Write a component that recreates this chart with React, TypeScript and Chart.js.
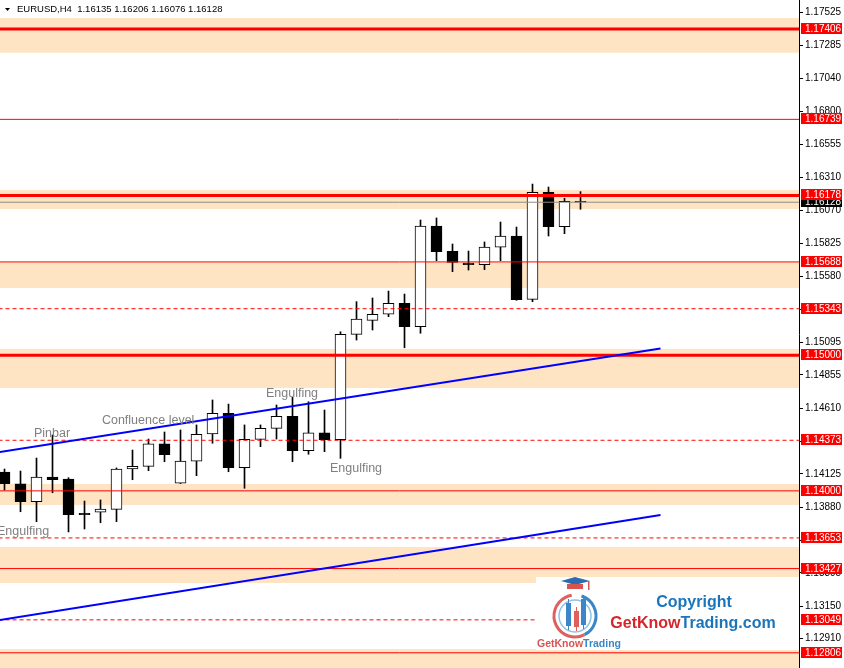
import React, { useEffect, useRef } from "react";
import { Chart, registerables } from "chart.js";

Chart.register(...registerables);

// ---- data ----
const symbolTitle = "EURUSD,H4";
const lastBarQuote = ["1.16135", "1.16206", "1.16076", "1.16128"];

const opens = [
  1.14139, 1.14051, 1.1392, 1.14102, 1.14087, 1.13835, 1.13842, 1.13864, 1.14161, 1.14181,
  1.14346, 1.14056, 1.14218, 1.14419, 1.14572, 1.14171, 1.1438, 1.14461, 1.1455, 1.14296,
  1.14427, 1.14377, 1.15154, 1.15257, 1.15302, 1.15383, 1.1521, 1.15953, 1.15766, 1.1568,
  1.15667, 1.15796, 1.15879, 1.15412, 1.16201, 1.15947, 1.16135,
];
const highs = [
  1.14161, 1.14146, 1.14242, 1.14412, 1.14097, 1.13925, 1.13933, 1.14169, 1.14301, 1.14382,
  1.14434, 1.14449, 1.14486, 1.1467, 1.1464, 1.14486, 1.14486, 1.14633, 1.1469, 1.14657,
  1.14596, 1.15173, 1.15395, 1.15422, 1.15473, 1.15451, 1.15997, 1.16012, 1.1582, 1.15768,
  1.15835, 1.15982, 1.15945, 1.16262, 1.1624, 1.16157, 1.16206,
];
const lows = [
  1.14006, 1.13846, 1.13773, 1.13986, 1.13697, 1.13719, 1.13765, 1.13773, 1.14082, 1.14149,
  1.14215, 1.14054, 1.14112, 1.14351, 1.14141, 1.14019, 1.14326, 1.14382, 1.14215, 1.1427,
  1.14289, 1.1424, 1.15112, 1.15186, 1.15284, 1.15055, 1.15162, 1.15697, 1.15616, 1.15628,
  1.15631, 1.15697, 1.15405, 1.15395, 1.15879, 1.15896, 1.16076,
];
const closes = [
  1.14053, 1.1392, 1.14102, 1.14082, 1.13824, 1.13824, 1.13866, 1.14161, 1.14181, 1.14346,
  1.14267, 1.1422, 1.14417, 1.14572, 1.14171, 1.1438, 1.14461, 1.1455, 1.14296, 1.14427,
  1.14377, 1.15154, 1.15267, 1.15302, 1.15383, 1.1521, 1.15953, 1.15763, 1.15685, 1.15667,
  1.15798, 1.15879, 1.15409, 1.16201, 1.15947, 1.16135, 1.16128,
];

const axisTicks = [
  1.17525, 1.17285, 1.1704, 1.168, 1.16555, 1.1631, 1.1607, 1.15825, 1.1558, 1.1534,
  1.15095, 1.14855, 1.1461, 1.14365, 1.14125, 1.1388, 1.13635, 1.13395, 1.1315, 1.1291,
];

const zoneTops = [1.17486, 1.16218, 1.15687, 1.15046, 1.14051, 1.13586, 1.12834];
const zoneBottoms = [1.1723, 1.16078, 1.15496, 1.14758, 1.13896, 1.13321, 1.126];

const heavyLevels = [1.17406, 1.16178, 1.15];
const thinLevels = [1.16739, 1.15688, 1.14, 1.13427, 1.12806];
const dashedLevels = [1.15343, 1.14373, 1.13653, 1.13049];
const bidLevel = 1.16128;

const upperTrendX = [-1, 41];
const upperTrendY = [1.14273, 1.1505];
const lowerTrendX = [-1, 41];
const lowerTrendY = [1.13035, 1.13822];

const noteTexts = ["Pinbar", "Confluence level", "Engulfing", "Engulfing", "Engulfing"];
const noteX = [1.84, 6.09, 16.34, 20.34, -0.47];
const noteY = [1.14419, 1.14515, 1.14714, 1.14161, 1.13697];

// ---- styling ----
const FONT = '"Liberation Sans", Arial, sans-serif';
const ZONE = "#FFE4C4";
const RED = "#FF0000";

const levelLine = (y: number, width: number, color: string, dash: number[] = []) => ({
  type: "line" as const,
  data: [
    { x: -3, y },
    { x: 60, y },
  ],
  borderColor: color,
  borderWidth: width,
  borderDash: dash,
  pointRadius: 0,
  tension: 0,
  order: 1,
  clip: 0,
});

const trendLine = (xs: number[], ys: number[]) => ({
  type: "line" as const,
  data: xs.map((x, i) => ({ x, y: ys[i] })),
  borderColor: "#0000FF",
  borderWidth: 2,
  pointRadius: 0,
  tension: 0,
  order: 0,
  clip: 0,
});

const overlayPlugin = {
  id: "overlay",
  beforeDatasetsDraw(chart: any) {
    const { ctx, chartArea: a, scales } = chart;
    const y = scales.y;
    ctx.save();
    ctx.beginPath();
    ctx.rect(a.left, a.top, a.right - a.left, a.bottom - a.top);
    ctx.clip();
    ctx.fillStyle = ZONE;
    zoneTops.forEach((t, i) => {
      const y1 = y.getPixelForValue(t);
      const y2 = y.getPixelForValue(zoneBottoms[i]);
      ctx.fillRect(a.left, y1, a.right - a.left, y2 - y1);
    });
    ctx.restore();
  },
  afterDatasetsDraw(chart: any) {
    const { ctx, chartArea: a, scales } = chart;
    ctx.save();
    ctx.beginPath();
    ctx.rect(a.left, a.top, a.right - a.left, a.bottom - a.top);
    ctx.clip();
    ctx.font = `12.5px ${FONT}`;
    ctx.fillStyle = "#808080";
    ctx.textBaseline = "middle";
    ctx.textAlign = "left";
    noteTexts.forEach((t, i) => {
      ctx.fillText(t, scales.x.getPixelForValue(noteX[i]), scales.y.getPixelForValue(noteY[i]));
    });

    // watermark logo box
    const L = a.right - 263;
    const T = a.bottom - 91;
    ctx.fillStyle = "#ffffff";
    ctx.fillRect(L, T, 263, 73);
    const cx = L + 39;
    const cy = T + 39;
    ctx.lineWidth = 3;
    ctx.strokeStyle = "#E0605E";
    ctx.beginPath();
    ctx.arc(cx, cy, 21, Math.PI * 0.35, Math.PI * 1.45);
    ctx.stroke();
    ctx.strokeStyle = "#3A86C8";
    ctx.beginPath();
    ctx.arc(cx, cy, 21, Math.PI * 1.6, Math.PI * 2.35);
    ctx.stroke();
    ctx.lineWidth = 1.5;
    ctx.strokeStyle = "#8FC0E8";
    ctx.beginPath();
    ctx.arc(cx, cy, 16, 0, Math.PI * 2);
    ctx.stroke();
    // candles inside
    const bars = [
      { x: cx - 9, t: cy - 13, b: cy + 10, c: "#3A86C8" },
      { x: cx - 1, t: cy - 5, b: cy + 11, c: "#E0605E" },
      { x: cx + 6, t: cy - 17, b: cy + 9, c: "#3A86C8" },
    ];
    bars.forEach((bb) => {
      ctx.fillStyle = bb.c;
      ctx.fillRect(bb.x + 2, bb.t - 4, 1, bb.b - bb.t + 8);
      ctx.fillRect(bb.x, bb.t, 5, bb.b - bb.t);
    });
    // graduation cap
    ctx.fillStyle = "#2B6CB0";
    ctx.beginPath();
    ctx.moveTo(cx - 14, T + 4);
    ctx.lineTo(cx, T);
    ctx.lineTo(cx + 15, T + 4);
    ctx.lineTo(cx, T + 8);
    ctx.closePath();
    ctx.fill();
    ctx.fillStyle = "#D9534F";
    ctx.fillRect(cx - 8, T + 7, 16, 5);
    ctx.fillRect(cx + 13, T + 4, 1.5, 9);
    ctx.font = `bold 10.5px ${FONT}`;
    ctx.textBaseline = "middle";
    ctx.fillStyle = "#D9534F";
    ctx.fillText("GetKnow", L + 1, T + 67);
    const w1 = ctx.measureText("GetKnow").width;
    ctx.fillStyle = "#3A86C8";
    ctx.fillText("Trading", L + 1 + w1, T + 67);

    ctx.textAlign = "center";
    ctx.font = `bold 16px ${FONT}`;
    ctx.fillStyle = "#1B75BB";
    ctx.fillText("Copyright", L + 158, T + 26);
    ctx.font = `bold 16px ${FONT}`;
    const s1 = "GetKnow";
    const s2 = "Trading.com";
    const wa = ctx.measureText(s1).width;
    const wb = ctx.measureText(s2).width;
    const start = L + 157 - (wa + wb) / 2;
    ctx.textAlign = "left";
    ctx.fillStyle = "#D7262B";
    ctx.fillText(s1, start, T + 47);
    ctx.fillStyle = "#1B75BB";
    ctx.fillText(s2, start + wa, T + 47);
    ctx.restore();
  },
  afterDraw(chart: any) {
    const { ctx, chartArea: a, scales } = chart;
    const y = scales.y;
    ctx.save();
    ctx.font = `10px ${FONT}`;
    ctx.textBaseline = "middle";
    ctx.textAlign = "left";
    const box = (v: number, bg: string) => {
      const py = y.getPixelForValue(v);
      ctx.fillStyle = bg;
      ctx.fillRect(a.right + 2, Math.round(py) - 6, 41, 11);
      ctx.fillStyle = "#ffffff";
      ctx.fillText(v.toFixed(5), a.right + 6, Math.round(py));
    };
    box(bidLevel, "#000000");
    [...heavyLevels, ...thinLevels, ...dashedLevels].forEach((v) => box(v, RED));

    // header
    ctx.fillStyle = "#000";
    ctx.beginPath();
    ctx.moveTo(5, 8);
    ctx.lineTo(10, 8);
    ctx.lineTo(7.5, 11);
    ctx.closePath();
    ctx.fill();
    ctx.font = `9.5px ${FONT}`;
    ctx.fillText(`${symbolTitle}  ${lastBarQuote.join(" ")}`, 17, 9);
    ctx.restore();
  },
};

export default function App() {
  const ref = useRef<HTMLCanvasElement>(null);
  useEffect(() => {
    const idx = opens.map((_, i) => i);
    const bodyColors = idx.map((i) => (closes[i] >= opens[i] ? "#ffffff" : "#000000"));
    const chart = new Chart(ref.current as HTMLCanvasElement, {
      type: "bar",
      data: {
        datasets: [
          {
            type: "bar",
            data: idx.map((i) => ({ x: i, y: [lows[i], highs[i]] })) as any,
            backgroundColor: "#000000",
            borderWidth: 0,
            barThickness: 1,
            grouped: false,
            order: 3,
          },
          {
            type: "bar",
            data: idx.map((i) => ({ x: i, y: [opens[i], closes[i]] })) as any,
            backgroundColor: bodyColors,
            borderColor: "#000000",
            borderWidth: 1,
            borderSkipped: false,
            barThickness: 11,
            grouped: false,
            order: 2,
          },
          levelLine(bidLevel, 1, "#8C8C8C"),
          ...heavyLevels.map((v) => levelLine(v, 3, RED)),
          ...thinLevels.map((v) => levelLine(v, 1, RED)),
          ...dashedLevels.map((v) => levelLine(v, 1, RED, [4, 3])),
          trendLine(upperTrendX, upperTrendY),
          trendLine(lowerTrendX, lowerTrendY),
        ] as any,
      },
      options: {
        animation: false,
        responsive: false,
        devicePixelRatio: 1,
        layout: { padding: 0 },
        plugins: { legend: { display: false }, tooltip: { enabled: false } },
        events: [],
        scales: {
          x: {
            type: "linear",
            display: false,
            min: -0.28125,
            max: 49.65625,
            offset: false,
          },
          y: {
            type: "linear",
            position: "right",
            min: 1.12694,
            max: 1.17619,
            afterBuildTicks: (s: any) => {
              s.ticks = axisTicks.map((v) => ({ value: v }));
            },
            afterFit: (s: any) => {
              s.width = 45;
              s.paddingTop = 0;
              s.paddingBottom = 0;
            },
            ticks: {
              callback: (v: any) => Number(v).toFixed(5),
              font: { family: FONT, size: 10 },
              color: "#000000",
              padding: 2,
              autoSkip: false,
            },
            grid: {
              display: true,
              drawOnChartArea: false,
              drawTicks: true,
              tickLength: 4,
              color: "#000000",
            },
            border: { display: true, color: "#000000", width: 1 },
          },
        },
      } as any,
      plugins: [overlayPlugin],
    });
    return () => chart.destroy();
  }, []);
  return (
    <div style={{ position: "fixed", left: 0, top: 0, width: 844, height: 668, background: "#ffffff" }}>
      <canvas ref={ref} width={844} height={668} style={{ display: "block", width: 844, height: 668 }} />
    </div>
  );
}
